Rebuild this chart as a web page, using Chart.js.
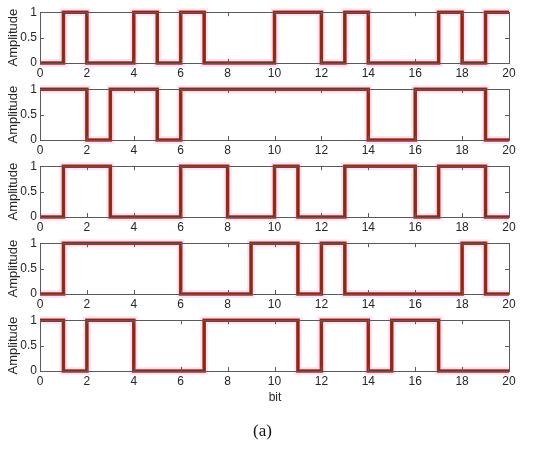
<!DOCTYPE html>
<html>
<head>
<meta charset="utf-8">
<script src="https://cdn.jsdelivr.net/npm/chart.js@4"></script>
<style>
  body { margin: 0; background: #fff; width: 550px; height: 450px; position: relative; overflow: hidden; }
  .panel { position: absolute; left: 0; width: 550px; height: 80px; }
  .lbl { position: absolute; color: #262626; }
</style>
</head>
<body>
<div id="wrap"></div>
<div class="lbl" style="left:0;width:550px;top:390px;text-align:center;font:12px 'Liberation Sans',Arial,sans-serif;">bit</div>
<div class="lbl" style="left:0;width:525px;top:421px;text-align:center;font:17px 'Liberation Serif','Times New Roman',serif;color:#111;">(a)</div>
<script>
// bit streams, one value per bit interval [i, i+1]
var bitsA = [0,1,0,0,1,0,1,0,0,0,1,1,0,1,0,0,0,1,0,1];
var bitsB = [1,1,0,1,1,0,1,1,1,1,1,1,1,1,0,0,1,1,1,0];
var bitsC = [0,1,1,0,0,0,1,1,0,0,1,0,0,1,1,1,0,1,1,0];
var bitsD = [0,1,1,1,1,1,0,0,0,1,1,0,1,0,0,0,0,0,1,0];
var bitsE = [1,0,1,1,0,0,0,1,1,1,1,0,1,1,0,1,1,0,0,0];
var streams = [bitsA, bitsB, bitsC, bitsD, bitsE];

var xTicks = [0,2,4,6,8,10,12,14,16,18,20];
var yTicks = [0,0.5,1];
var plotTops = [10, 87, 164, 241, 318];

var axisColor = '#262626';
var font = { family: "'Liberation Sans', Arial, sans-serif", size: 12 };

// box + inward ticks, matlab style
var boxPlugin = {
	id: 'box',
	afterDraw: function(chart) {
		var ctx = chart.ctx, a = chart.chartArea;
		var xs = chart.scales.x, ys = chart.scales.y;
		ctx.save();
		ctx.strokeStyle = '#5a5a5a';
		ctx.lineWidth = 1;
		ctx.beginPath();
		for (var i=0; i<xTicks.length; i++) {
			var px = Math.round(xs.getPixelForValue(xTicks[i])) + 0.5;
			ctx.moveTo(px, a.bottom); ctx.lineTo(px, a.bottom - 4);
			ctx.moveTo(px, a.top); ctx.lineTo(px, a.top + 4);
		}
		for (var j=0; j<yTicks.length; j++) {
			var py = Math.round(ys.getPixelForValue(yTicks[j])) + 0.5;
			ctx.moveTo(a.left, py); ctx.lineTo(a.left + 4, py);
			ctx.moveTo(a.right, py); ctx.lineTo(a.right - 4, py);
		}
		ctx.stroke();
		ctx.strokeRect(Math.round(a.left) + 0.5, Math.round(a.top) + 0.5, Math.round(a.right - a.left), Math.round(a.bottom - a.top));
		ctx.restore();
	}
};

function makePoints(bits) {
	var pts = [];
	for (var i=0; i<bits.length; i++) {
		pts.push({x: i, y: bits[i]});
	}
	pts.push({x: bits.length, y: bits[bits.length-1]});
	return pts;
}

function stepLine(bits, color, width) {
	return {
		data: makePoints(bits),
		stepped: true,
		borderColor: color,
		borderWidth: width,
		pointRadius: 0,
		fill: false,
		clip: 5
	};
}

var wrap = document.getElementById('wrap');
streams.forEach(function(bits, k) {
	var div = document.createElement('div');
	div.className = 'panel';
	div.style.top = (plotTops[k] - 8) + 'px';
	var cv = document.createElement('canvas');
	cv.width = 550; cv.height = 80;
	div.appendChild(cv);
	wrap.appendChild(div);

	new Chart(cv, {
		type: 'line',
		data: {
			// first dataset is drawn on top
			datasets: [
				stepLine(bits, '#7a3214', 2.2),
				stepLine(bits, '#c8231a', 3.6),
				stepLine(bits, 'rgba(255,205,240,0.55)', 8)
			]
		},
		options: {
			responsive: false,
			maintainAspectRatio: false,
			animation: false,
			events: [],
			layout: { padding: { top: 8, right: 41, left: 1, bottom: 0 } },
			plugins: { legend: { display: false }, tooltip: { enabled: false } },
			scales: {
				x: {
					type: 'linear', min: 0, max: 20,
					afterBuildTicks: function(s) { s.ticks = xTicks.map(function(v) { return {value: v}; }); },
					afterFit: function(s) { s.height = 19; },
					grid: { display: false, drawTicks: false },
					border: { display: false },
					ticks: { color: axisColor, padding: 3, maxRotation: 0, autoSkip: false, font: font }
				},
				y: {
					type: 'linear', min: 0, max: 1,
					afterBuildTicks: function(s) { s.ticks = yTicks.map(function(v) { return {value: v}; }); },
					afterFit: function(s) { s.width = 39; },
					grid: { display: false, drawTicks: false },
					border: { display: false },
					title: { display: true, text: 'Amplitude', color: axisColor, padding: { top: 5, bottom: 0 }, font: { family: font.family, size: 13 } },
					ticks: { color: axisColor, padding: 3, font: font, callback: function(v) { return String(v); } }
				}
			}
		},
		plugins: [boxPlugin]
	});
});
</script>
</body>
</html>
